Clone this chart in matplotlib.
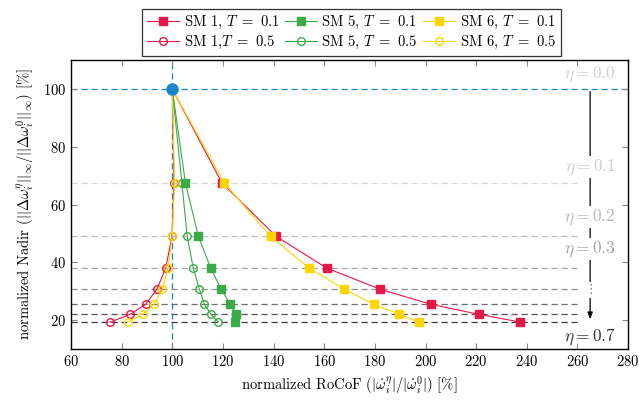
import matplotlib
matplotlib.use("Agg")
import matplotlib.pyplot as plt
import numpy as np

plt.rcParams['font.family'] = 'serif'
plt.rcParams['font.serif'] = ['cmr10', 'DejaVu Serif']
plt.rcParams['mathtext.fontset'] = 'cm'
plt.rcParams['axes.formatter.use_mathtext'] = True
plt.rcParams['font.size'] = 10

# data
eta = [0.0, 0.1, 0.2, 0.3, 0.4, 0.5, 0.6, 0.7]
nadir = [100, 67.5, 49.0, 38.0, 30.7, 25.5, 22.0, 19.3]

rocof_sm1_t01 = [100, 119.6, 141.0, 161.0, 182.0, 202.0, 221.0, 237.5]
rocof_sm5_t01 = [100, 105.2, 110.3, 115.2, 119.3, 122.9, 125.2, 124.9]
rocof_sm6_t01 = [100, 120.5, 138.8, 154.0, 168.0, 179.5, 189.7, 197.3]
rocof_sm1_t05 = [100, 100.7, 99.9, 97.4, 94.0, 89.5, 83.4, 75.5]
rocof_sm5_t05 = [100, 103.8, 105.9, 108.3, 110.7, 112.7, 115.3, 118.2]
rocof_sm6_t05 = [100, 100.9, 100.0, 98.4, 96.1, 92.8, 88.4, 82.4]

red = '#e8174a'
green = '#3aab47'
yellow = '#ffd500'
blue = '#1a86c8'

fig = plt.figure(figsize=(6.39, 4.03), dpi=100)
ax = fig.add_axes([0.111, 0.134, 0.872, 0.717])

# eta level lines
grays = ['#d6d6d6', '#bfbfbf', '#a8a8a8', '#8c8c8c', '#6e6e6e', '#555555', '#3c3c3c']
for n, gc in zip(nadir[1:], grays):
    ax.plot([60, 260], [n, n], color=gc, lw=0.9, ls=(0, (5, 3)), zorder=1)
ax.axhline(100, color=blue, lw=0.9, ls=(0, (5, 3)), zorder=1)
ax.axvline(100, color=blue, lw=0.9, ls=(0, (5, 3)), zorder=1)

# series
mk = list(range(1, 8))
h11, = ax.plot(rocof_sm1_t01, nadir, color=red, lw=0.8, marker='s', ms=5.5, markevery=mk, zorder=3)
h51, = ax.plot(rocof_sm5_t01, nadir, color=green, lw=0.8, marker='s', ms=5.5, markevery=mk, zorder=3)
h61, = ax.plot(rocof_sm6_t01, nadir, color=yellow, lw=0.8, marker='s', ms=5.5, markevery=mk, zorder=3)
h15, = ax.plot(rocof_sm1_t05, nadir, color=red, lw=0.8, marker='o', ms=5.5, mfc='none', mew=1, markevery=mk, zorder=3)
h55, = ax.plot(rocof_sm5_t05, nadir, color=green, lw=0.8, marker='o', ms=5.5, mfc='none', mew=1, markevery=mk, zorder=3)
h65, = ax.plot(rocof_sm6_t05, nadir, color=yellow, lw=0.8, marker='o', ms=5.5, mfc='none', mew=1, markevery=mk, zorder=3)

ax.plot([100], [100], marker='o', ms=8, color=blue, zorder=5)

# arrow and eta labels
ax.annotate('', xy=(265, nadir[-1]), xytext=(265, 100),
            arrowprops=dict(arrowstyle='-|>,head_length=0.4,head_width=0.15', color='black', lw=0.9), zorder=2)
lbl_box = dict(facecolor='white', edgecolor='none', pad=1.0)
ax.text(265, 105, r'$\eta = 0.0$', color='#d0d0d0', ha='center', va='center', fontsize=12.5, zorder=4)
ax.text(265, 73, r'$\eta = 0.1$', color='#cccccc', ha='center', va='center', fontsize=12.5, bbox=lbl_box, zorder=4)
ax.text(265, 55.7, r'$\eta = 0.2$', color='#b8b8b8', ha='center', va='center', fontsize=12.5, bbox=lbl_box, zorder=4)
ax.text(265, 44.6, r'$\eta = 0.3$', color='#a4a4a4', ha='center', va='center', fontsize=12.5, bbox=lbl_box, zorder=4)
ax.text(265, 30.5, '⋮', color='#777777', ha='center', va='center', fontsize=9, family='DejaVu Sans', bbox=lbl_box, zorder=4)
ax.text(265, 14.2, r'$\eta = 0.7$', color='#333333', ha='center', va='center', fontsize=12.5, zorder=4)

ax.set_xlim(60, 280)
ax.set_ylim(10, 110)
ax.set_xticks(np.arange(60, 281, 20))
ax.set_yticks(np.arange(20, 101, 20))
ax.tick_params(direction='in', top=True, right=True, length=4, color='#888888', labelsize=10.5)
for sp in ax.spines.values():
    sp.set_linewidth(1.0)

ax.set_xlabel(r'normalized RoCoF $(|\dot{\omega}_i^\eta|/|\dot{\omega}_i^0|)$ [%]', fontsize=10.5)
ax.set_ylabel(r'normalized Nadir $(||\Delta\omega_i^\eta||_\infty/||\Delta\omega_i^0||_\infty)$ [%]', fontsize=10.5)

handles = [h11, h15, h51, h55, h61, h65]
labels = [r'SM 1, $T\ =\ 0.1$', r'SM 1,$T\ =\ 0.5$', r'SM 5, $T\ =\ 0.1$', r'SM 5, $T\ =\ 0.5$',
          r'SM 6, $T\ =\ 0.1$', r'SM 6, $T\ =\ 0.5$']
leg = fig.legend(handles, labels, ncol=3, loc='upper center', bbox_to_anchor=(0.55, 0.997),
                 frameon=True, fancybox=False, edgecolor='black', fontsize=10.5,
                 handlelength=2.2, handletextpad=0.3, columnspacing=0.4, labelspacing=0.2,
                 borderpad=0.35)
leg.get_frame().set_linewidth(0.9)

fig.savefig('out.png', dpi=100)
